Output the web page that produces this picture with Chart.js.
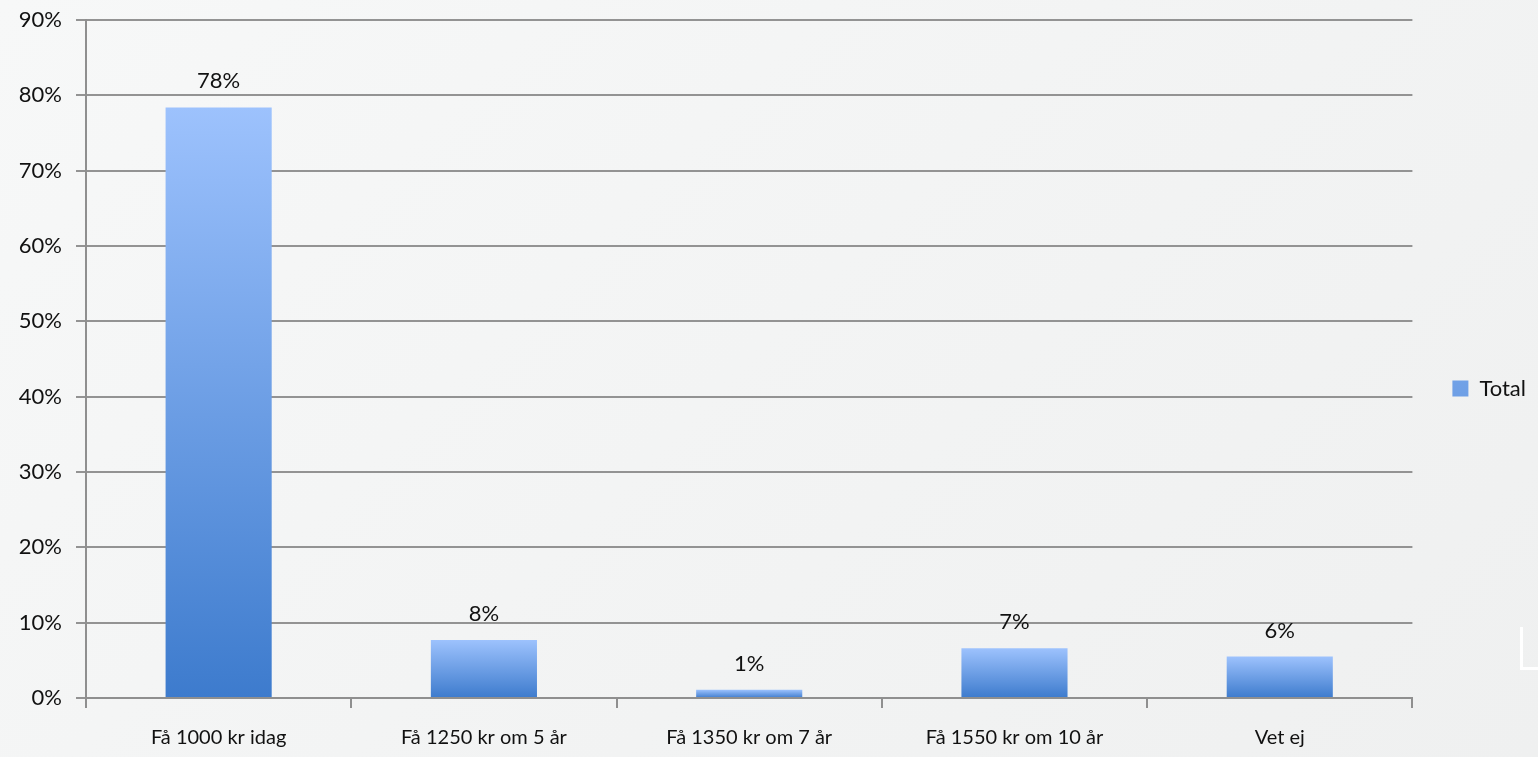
<!DOCTYPE html>
<html>
<head>
<meta charset="utf-8">
<script src="https://cdn.jsdelivr.net/npm/chart.js@4/dist/chart.umd.min.js"></script>
<style>
  html, body { margin: 0; padding: 0; }
  body {
    width: 1538px; height: 757px; overflow: hidden;
    background: linear-gradient(135deg, #f7f8f8 0%, #f2f3f3 60%, #eff0f0 100%);
    position: relative;
  }
  #wrap { position: absolute; left: 0; top: 0; width: 1538px; height: 757px; }
  .corner {
    position: absolute; left: 1520px; top: 627px; width: 20px; height: 40px;
    border-left: 3px solid #fff; border-bottom: 3px solid #fff;
  }
</style>
</head>
<body>
<div id="wrap"><canvas id="chart"></canvas></div>
<div class="corner"></div>
<script>
const categories = ['Få 1000 kr idag', 'Få 1250 kr om 5 år', 'Få 1350 kr om 7 år', 'Få 1550 kr om 10 år', 'Vet ej'];
const totalValues = [78.4, 7.7, 1.1, 6.6, 5.5];
const tickValues = [0, 10, 20, 30, 40, 50, 60, 70, 80, 90];

const FONT = 'Lato, "Open Sans", sans-serif';

// vertical gradient per bar, light on top, darker at the base
function barGradient(context) {
  const chart = context.chart;
  const { ctx, chartArea, scales } = chart;
  if (!chartArea) return '#6f9fe6';
  if (context.type !== 'data') {
    const g = ctx.createLinearGradient(0, 0, 0, 16);
    g.addColorStop(0, '#9dc2fd');
    g.addColorStop(1, '#3f7ccd');
    return g;
  }
  const v = context.parsed ? context.parsed.y : totalValues[context.dataIndex];
  const top = scales.y.getPixelForValue(v);
  const base = scales.y.getPixelForValue(0);
  const g = ctx.createLinearGradient(0, top, 0, base);
  g.addColorStop(0, '#9dc2fd');
  g.addColorStop(1, '#3d7bcd');
  return g;
}

const valueLabels = {
  id: 'valueLabels',
  afterDatasetsDraw(chart) {
    const { ctx } = chart;
    const meta = chart.getDatasetMeta(0);
    ctx.save();
    ctx.font = '22px ' + FONT;
    ctx.fillStyle = '#111';
    ctx.textAlign = 'center';
    ctx.textBaseline = 'bottom';
    meta.data.forEach((bar, i) => {
      ctx.fillText(Math.round(totalValues[i]) + '%', bar.x, bar.y - 15);
    });
    ctx.restore();
  }
};

new Chart(document.getElementById('chart'), {
  type: 'bar',
  data: {
    labels: categories,
    datasets: [{
      label: 'Total',
      data: totalValues,
      backgroundColor: barGradient,
      borderWidth: 0,
      categoryPercentage: 0.8,
      barPercentage: 0.5
    }]
  },
  options: {
    responsive: true,
    maintainAspectRatio: false,
    animation: false,
    layout: { padding: { top: 20, right: 2, bottom: 0, left: 0 } },
    plugins: {
      legend: {
        position: 'right',
        labels: {
          color: '#111',
          font: { family: FONT, size: 22 },
          boxWidth: 16,
          boxHeight: 16,
          padding: 40
        }
      },
      tooltip: { enabled: false }
    },
    scales: {
      x: {
        offset: true,
        grid: {
          offset: true,
          drawOnChartArea: false,
          drawTicks: true,
          tickLength: 10,
          color: '#8f8f8f',
          lineWidth: 2
        },
        border: { color: '#8f8f8f', width: 2 },
        ticks: {
          color: '#111',
          font: { family: FONT, size: 20 },
          padding: 18,
          maxRotation: 0
        },
        afterFit(scale) { scale.height = 59; }
      },
      y: {
        min: 0,
        max: 90,
        afterBuildTicks(scale) { scale.ticks = tickValues.map(v => ({ value: v })); },
        grid: {
          color: '#939393',
          lineWidth: 2,
          tickLength: 10
        },
        border: { color: '#8f8f8f', width: 2 },
        ticks: {
          color: '#111',
          font: { family: FONT, size: 22 },
          padding: 14,
          callback: v => v + '%'
        },
        afterFit(scale) {
          scale.width = 86;
          scale.paddingTop = 0;
          scale.paddingBottom = 0;
        }
      }
    }
  },
  plugins: [valueLabels]
});
</script>
</body>
</html>
